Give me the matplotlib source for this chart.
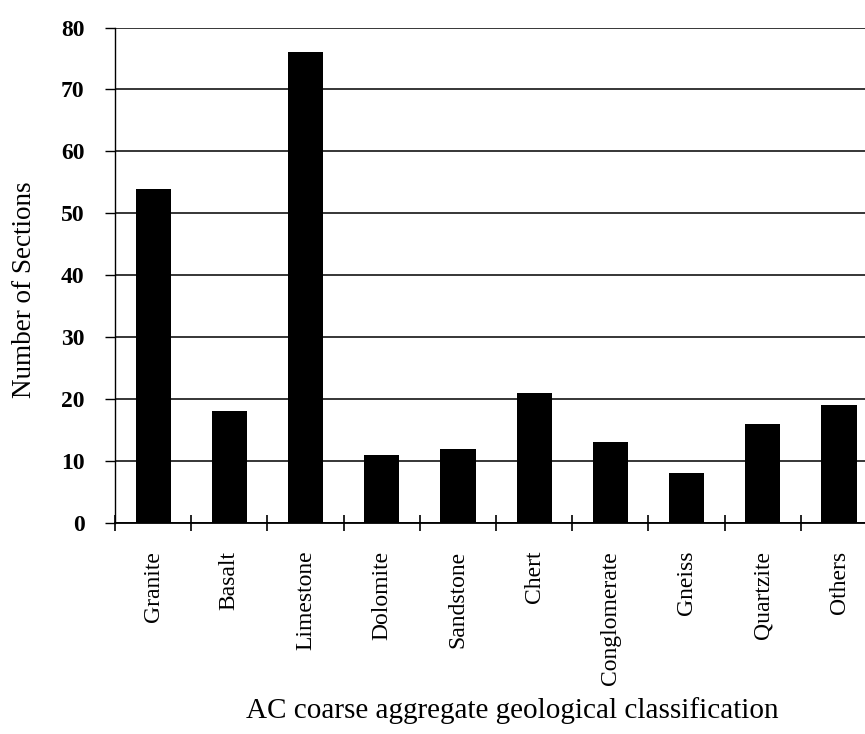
import matplotlib.pyplot as plt
import numpy as np

# data
rock_types = ['Granite', 'Basalt', 'Limestone', 'Dolomite', 'Sandstone',
              'Chert', 'Conglomerate', 'Gneiss', 'Quartzite', 'Others']
n_sections = [54, 18, 76, 11, 12, 21, 13, 8, 16, 19]
y_ticks = [0, 10, 20, 30, 40, 50, 60, 70, 80]

plt.rcParams['font.family'] = ['Liberation Serif', 'DejaVu Serif']

fig = plt.figure(figsize=(8.65, 7.34), dpi=100)
ax = fig.add_axes([0.133, 0.2875, 0.881, 0.675])

x = np.arange(len(rock_types))
ax.bar(x, n_sections, width=0.46, color='black', zorder=3)

ax.set_xlim(-0.5, len(rock_types) - 0.5)
ax.set_ylim(0, 80)
ax.set_yticks(y_ticks)
ax.set_yticklabels([str(v) for v in y_ticks], fontsize=17, fontweight='bold')
ax.yaxis.grid(True, color='black', linewidth=1.1, zorder=1)
ax.tick_params(axis='y', direction='out', length=7, width=1, pad=15)

# category ticks sit between the bars
ax.set_xticks(np.arange(len(rock_types) + 1) - 0.5)
ax.set_xticklabels([])
ax.set_xticks(x, minor=True)
ax.set_xticklabels(rock_types, minor=True, rotation=90, fontsize=17)
ax.tick_params(axis='x', which='major', direction='inout', length=11, width=1.2)
ax.tick_params(axis='x', which='minor', length=0, pad=20)

for side in ['top', 'right']:
    ax.spines[side].set_visible(False)
ax.spines['left'].set_linewidth(1)
ax.spines['bottom'].set_linewidth(1.3)

ax.set_ylabel('Number of Sections', fontsize=19.5)
ax.yaxis.set_label_coords(-0.103, 0.471)
fig.text(0.5925, 0.022, 'AC coarse aggregate geological classification',
         ha='center', va='baseline', fontsize=21)

plt.savefig('out.png', dpi=100)
